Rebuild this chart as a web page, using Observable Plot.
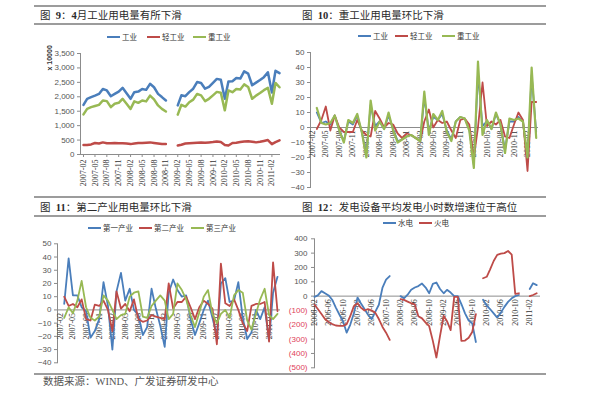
<!DOCTYPE html>
<html><head><meta charset="utf-8">
<script src="https://cdn.jsdelivr.net/npm/d3@7"></script>
<script src="https://cdn.jsdelivr.net/npm/@observablehq/plot@0.6"></script>
<style>
body{margin:0;background:#fff;width:595px;height:398px;position:relative;overflow:hidden;font-family:"Liberation Serif","Noto Sans CJK SC",serif;}
.hl{position:absolute;left:34px;width:512px;background:#9c9c9c;}
.title{position:absolute;font-size:10.5px;line-height:14px;color:#2a2a2a;white-space:nowrap;}
.title b{font-weight:bold;}
.chart{position:absolute;}
.lg{position:absolute;font-family:"Noto Sans CJK SC",sans-serif;font-size:7.5px;line-height:10px;color:#333;white-space:nowrap;}
.sw{position:absolute;height:2px;}
.cap{position:absolute;left:43px;top:375px;font-size:10.5px;line-height:14px;color:#555;white-space:nowrap;}
</style></head>
<body>
<div class="hl" style="top:5px;height:1.5px"></div>
<div class="hl" style="top:23px;height:2px"></div>
<div class="hl" style="top:196px;height:2px"></div>
<div class="hl" style="top:215px;height:2px"></div>
<div class="hl" style="top:373px;height:2px"></div>
<div class="title" style="left:40px;top:9px">图&nbsp; <b>9</b>：<b>4</b>月工业用电量有所下滑</div>
<div class="title" style="left:302px;top:9px">图&nbsp; <b>10</b>：重工业用电量环比下滑</div>
<div class="title" style="left:40px;top:201px">图&nbsp; <b>11</b>：第二产业用电量环比下滑</div>
<div class="title" style="left:302px;top:201px">图&nbsp; <b>12</b>：发电设备平均发电小时数增速位于高位</div>
<div class="cap">数据来源：WIND、广发证券研发中心</div>
<script>
// ---------- data ----------
const tickLabels3m = ["2007-02","2007-05","2007-08","2007-11","2008-02","2008-05","2008-08","2008-11","2009-02","2009-05","2009-08","2009-11","2010-02","2010-05","2010-08","2010-11","2011-02"];
const tickLabels4m = ["2006-02","2006-06","2006-10","2007-02","2007-06","2007-10","2008-02","2008-06","2008-10","2009-02","2009-06","2009-10","2010-02","2010-06","2010-10","2011-02"];

// Panel 9: 2007-02 .. 2011-04, gap 2008-12/2009-01
const p9Names = ["工业","轻工业","重工业"];
const p9Industry = [1720,1930,1990,2040,2100,2270,2220,2020,2100,2180,2310,2120,1930,2160,2180,2270,2240,2450,2330,2100,1990,1870,
  null,null,
  1700,2050,2020,2160,2280,2510,2480,2280,2340,2480,2620,2590,1930,2530,2540,2650,2630,2880,2800,2400,2490,2580,2680,2850,2150,2900,2820];
const p9Light = [330,330,350,400,380,420,390,390,400,390,390,380,360,380,400,400,410,420,400,380,360,360,
  null,null,
  310,340,380,390,400,410,420,410,420,430,450,430,330,310,400,410,430,450,460,440,420,440,470,500,360,430,490];
const p9Heavy = [1390,1580,1640,1680,1720,1870,1850,1640,1760,1790,1930,1760,1580,1840,1790,1870,1840,2040,1910,1700,1580,1490,
  null,null,
  1380,1720,1660,1810,1900,2100,2050,1850,1930,2050,2170,2140,1530,2220,2160,2270,2250,2430,2340,1930,2040,2130,2230,2310,1760,2480,2330];
const p9YTicks = [0,500,1000,1500,2000,2500,3000,3500];

// Panel 10: month-on-month %, 2007-02 .. 2011-04
const p10Names = ["工业","轻工业","重工业"];
const p10Industry = [null,10,3,4,2,8,-2,-9,4,2,8,-3,-18,15,1,4,-1,8,-1,-9,-8,-6,-5,-7,-9,20,-2,7,5,9,-2,-8,4,7,6,-1,-25,36,1,4,-1,9,2,-15,4,4,7,4,-22,35,-3];
const p10Light = [null,-1,5,14,-2,8,0,-3,-3,-3,5,-2,-5,-6,11,6,0,3,2,-4,-7,-4,-5,-7,-9,4,12,0,5,3,4,-2,-7,5,6,2,-20,0,30,1,4,2,5,-6,-7,2,10,5,-29,17,17];
const p10Heavy = [null,13,3,2,3,8,-2,-10,5,3,9,-3,-20,18,-2,4,-1,10,-2,-10,-8,-6,-5,-7,-9,24,-5,9,5,11,-3,-9,4,7,6,-2,-27,44,-5,5,-1,10,2,-17,6,5,6,4,-20,40,-7];
const p10YTicks = [-40,-30,-20,-10,0,10,20,30,40,50];

// Panel 11: month-on-month %, 2007-02 .. 2011-04
const p11Names = ["第一产业","第二产业","第三产业"];
const p11Primary = [null,4.5,39,11,11,2,-1,-21,-16,-7,21,3,-30,14,28,7,16,0,-4,-19,-13,16,1,-12,-28,13,23,15,10,11,-7,-19,-10,0,7,-6,-20,20,24,6,7,21,-6,-22,-17,0,-7,2,-23,13,25];
const p11Secondary = [null,10,3,4.5,2,8,-7,-8,4,3,7,0,-16,14,1,4.5,-1,8,-7,-9,-8,-4,-5,-6,-7,20,1,6,6,10,2,-7,2,7,4.5,1,-26,35,5,3,8,0,-10,-16,3,4.5,4.5,6,-24,36,-1];
const p11Tertiary = [null,-6,2,-2.5,7,22,2,-6,-8,-5,11,7,0,-7,-4,-3,10,13,14,-5,-6,3,7,11,7,-7,-3,20,15,8,-4,-13,-2,10,15,-3,-10,-3,0,-6,11,15,13,-8,-15,-3,8,16,-4,-7,-3];
const p11YTicks = [-40,-30,-20,-10,0,10,20,30,40,50];

// Panel 12: 2006-02 .. 2011-04
const p12Names = ["水电","火电"];
const p12Hydro = [-5,5,35,20,5,-25,-80,-130,-175,-255,-200,-120,-10,-50,-90,-130,-160,-110,-60,60,115,140,
  null,null,
  0,-15,10,45,60,70,88,60,20,85,95,50,20,44,25,0,0,-55,-120,-170,-190,-320,
  null,
  -25,-65,-90,-120,-150,-115,-75,-40,-15,0,8,
  null,null,
  50,90,77];
const p12Thermal = [-60,-90,-125,-160,-180,-195,-205,-207,-208,-195,-140,-70,-50,-80,-100,-90,-100,-115,-160,-215,-255,-305,
  null,null,
  -21,-26,-38,-50,-58,-140,-155,-185,-210,-312,-428,-277,-137,-175,-237,-5,-5,-312,-310,-290,-250,-126,
  null,
  125,135,185,245,288,296,300,315,290,15,20,
  null,null,
  0,8,20];
const p12YTicks = [-500,-400,-300,-200,-100,0,100,200,300,400];

// ---------- helpers ----------
const BLUE = "#4A7EBB", RED = "#BE4B48", GREEN = "#98B954";
const parseM = d3.utcParse("%Y-%m");
const fmtM = d3.utcFormat("%Y-%m");
const monthRange = (a, b) => d3.utcMonth.range(parseM(a), d3.utcMonth.offset(parseM(b), 1));
const rowsOf = (months, values) => months.map((date, i) => ({date, value: values[i]}));
const SANS = "'Liberation Sans', Arial, sans-serif";
const SERIF = "'Liberation Serif', 'Times New Roman', serif";
const AXIS = "#8c8c8c";

function place(node, left, top) {
  const d = document.createElement("div");
  d.className = "chart";
  d.style.left = left + "px"; d.style.top = top + "px";
  d.appendChild(node);
  document.body.appendChild(d);
}
function legend(items) {
  for (const it of items) {
    const s = document.createElement("div");
    s.className = "sw"; s.style.left = it.x + "px"; s.style.top = (it.y - 1) + "px";
    s.style.width = "13px"; s.style.background = it.color;
    document.body.appendChild(s);
    const t = document.createElement("div");
    t.className = "lg"; t.style.left = (it.x + 15) + "px"; t.style.top = (it.y - 5) + "px";
    t.textContent = it.name;
    document.body.appendChild(t);
  }
}
const baseStyle = {fontFamily: SANS, fontSize: "8px", color: "#444", background: "transparent", overflow: "visible"};

// ---------- Panel 9 ----------
{
  const months = monthRange("2007-02", "2011-04");
  const chart = Plot.plot({
    width: 258, height: 168, marginLeft: 46, marginRight: 12, marginTop: 26, marginBottom: 41,
    style: baseStyle,
    x: {type: "utc", domain: [months[0], months[months.length - 1]], range: [49, 245], label: null},
    y: {domain: [0, 3500], label: null},
    marks: [
      Plot.frame({anchor: "left", stroke: AXIS}),
      Plot.ruleY([0], {stroke: AXIS}),
      Plot.axisY({ticks: p9YTicks, tickFormat: d3.format(","), tickSize: 3, tickPadding: 3, stroke: AXIS, fill: "#555", label: null}),
      Plot.axisX({ticks: tickLabels3m.map(parseM), tickFormat: fmtM, tickRotate: -90, tickSize: 3, tickPadding: 2, stroke: AXIS, fill: "#333", fontFamily: SERIF, label: null}),
      Plot.line(rowsOf(months, p9Industry), {x: "date", y: "value", stroke: BLUE, strokeWidth: 2.5}),
      Plot.line(rowsOf(months, p9Light), {x: "date", y: "value", stroke: RED, strokeWidth: 2.5}),
      Plot.line(rowsOf(months, p9Heavy), {x: "date", y: "value", stroke: GREEN, strokeWidth: 2.5}),
      Plot.text(["x 10000"], {frameAnchor: "top-left", rotate: -90, dx: -33, dy: 17, fontWeight: "bold", fontSize: 7, fill: "#333"})
    ]
  });
  place(chart, 34, 27);
  legend([
    {name: p9Names[0], color: BLUE, x: 107, y: 37},
    {name: p9Names[1], color: RED, x: 147, y: 37},
    {name: p9Names[2], color: GREEN, x: 193, y: 37}
  ]);
}

// ---------- Panel 10 ----------
{
  const months = monthRange("2007-02", "2011-04");
  const chart = Plot.plot({
    width: 258, height: 168, marginLeft: 22, marginRight: 8, marginTop: 25, marginBottom: 8,
    style: baseStyle,
    x: {type: "utc", domain: [months[0], months[months.length - 1]], range: [24.2, 247.7], label: null, axis: null},
    y: {domain: [-40, 50], label: null},
    marks: [
      Plot.frame({anchor: "left", stroke: AXIS}),
      Plot.axisY({ticks: p10YTicks, tickSize: 3, tickPadding: 3, stroke: AXIS, fill: "#555", label: null}),
      Plot.ruleY([0], {stroke: AXIS}),
      Plot.text(tickLabels3m.map(parseM), {x: d => d, y: 0, text: fmtM, rotate: -90, textAnchor: "end", dy: 3, fontFamily: SERIF, fill: "#333"}),
      Plot.line(rowsOf(months, p10Industry), {x: "date", y: "value", stroke: BLUE, strokeWidth: 1.8}),
      Plot.line(rowsOf(months, p10Light), {x: "date", y: "value", stroke: RED, strokeWidth: 1.8}),
      Plot.line(rowsOf(months, p10Heavy), {x: "date", y: "value", stroke: GREEN, strokeWidth: 2.2})
    ]
  });
  place(chart, 288, 27);
  legend([
    {name: p10Names[0], color: BLUE, x: 358, y: 36},
    {name: p10Names[1], color: RED, x: 395, y: 36},
    {name: p10Names[2], color: GREEN, x: 442, y: 36}
  ]);
}

// ---------- Panel 11 ----------
{
  const months = monthRange("2007-02", "2011-04");
  const chart = Plot.plot({
    width: 254, height: 150, marginLeft: 23, marginRight: 8, marginTop: 23.3, marginBottom: 7.7,
    style: baseStyle,
    x: {type: "utc", domain: [months[0], months[months.length - 1]], range: [25.7, 243], label: null, axis: null},
    y: {domain: [-40, 50], label: null},
    marks: [
      Plot.frame({anchor: "left", stroke: AXIS}),
      Plot.axisY({ticks: p11YTicks, tickSize: 3, tickPadding: 3, stroke: AXIS, fill: "#555", label: null}),
      Plot.ruleY([0], {stroke: AXIS}),
      Plot.text(tickLabels3m.map(parseM), {x: d => d, y: 0, text: fmtM, rotate: -90, textAnchor: "end", dy: 3, fontFamily: SERIF, fill: "#333"}),
      Plot.line(rowsOf(months, p11Primary), {x: "date", y: "value", stroke: BLUE, strokeWidth: 1.8}),
      Plot.line(rowsOf(months, p11Secondary), {x: "date", y: "value", stroke: RED, strokeWidth: 1.8}),
      Plot.line(rowsOf(months, p11Tertiary), {x: "date", y: "value", stroke: GREEN, strokeWidth: 1.8})
    ]
  });
  place(chart, 34, 220);
  legend([
    {name: p11Names[0], color: BLUE, x: 88, y: 228},
    {name: p11Names[1], color: RED, x: 139, y: 228},
    {name: p11Names[2], color: GREEN, x: 191, y: 228}
  ]);
}

// ---------- Panel 12 ----------
{
  const months = monthRange("2006-02", "2011-04");
  const pos = p12YTicks.filter(d => d >= 0), neg = p12YTicks.filter(d => d < 0);
  const chart = Plot.plot({
    width: 258, height: 160, marginLeft: 26, marginRight: 6, marginTop: 23.3, marginBottom: 7.7,
    style: baseStyle,
    x: {type: "utc", domain: [months[0], months[months.length - 1]], range: [26, 248.2], label: null, axis: null},
    y: {domain: [-500, 400], label: null},
    marks: [
      Plot.frame({anchor: "left", stroke: AXIS}),
      Plot.axisY({ticks: p12YTicks, tickSize: 3, tickFormat: () => "", stroke: AXIS, label: null}),
      Plot.text(pos, {y: d => d, frameAnchor: "left", dx: -7, textAnchor: "end", text: d => String(d), fill: "#555"}),
      Plot.text(neg, {y: d => d, frameAnchor: "left", dx: -7, textAnchor: "end", text: d => `(${-d})`, fill: "#e0405a"}),
      Plot.ruleY([0], {stroke: AXIS}),
      Plot.text(tickLabels4m.map(parseM), {x: d => d, y: 0, text: fmtM, rotate: -90, textAnchor: "end", dy: 3, fontFamily: SERIF, fill: "#333"}),
      Plot.line(rowsOf(months, p12Hydro), {x: "date", y: "value", stroke: BLUE, strokeWidth: 1.8}),
      Plot.line(rowsOf(months, p12Thermal), {x: "date", y: "value", stroke: RED, strokeWidth: 1.8})
    ]
  });
  place(chart, 288, 215);
  legend([
    {name: p12Names[0], color: BLUE, x: 383, y: 223},
    {name: p12Names[1], color: RED, x: 419, y: 223}
  ]);
}
</script>
</body></html>
